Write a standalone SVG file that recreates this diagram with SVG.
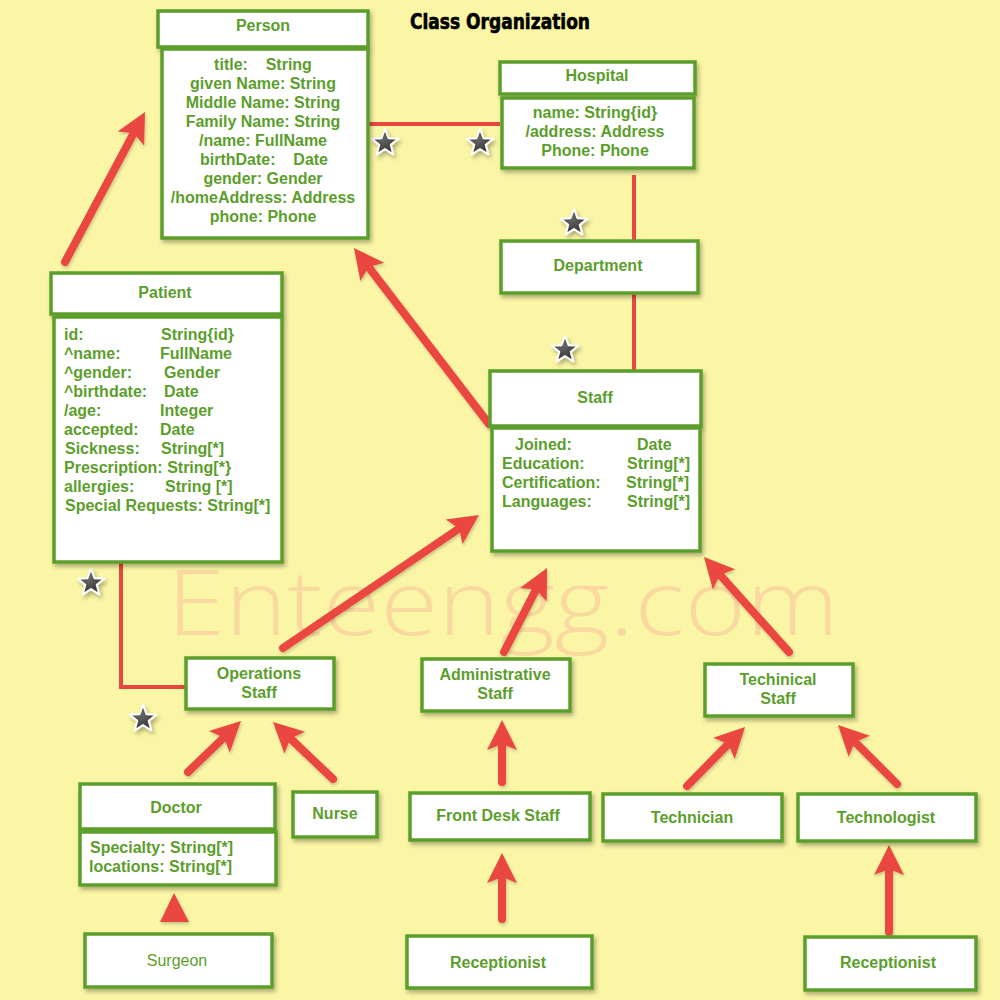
<svg xmlns="http://www.w3.org/2000/svg" width="1000" height="1000" viewBox="0 0 1000 1000">
<style>
.box{fill:#fff;stroke:#5C9E2C;stroke-width:3.5;filter:url(#sh)}
.t{font-family:"Liberation Sans",Arial,sans-serif;font-weight:bold;font-size:16px;fill:#5C9E2C;white-space:pre}
.c{text-anchor:middle}
.n{font-weight:normal}
.conn{stroke:#E9473F;stroke-width:4;fill:none}
.arr{stroke:#E9473F;stroke-width:8;stroke-linecap:round;fill:none;marker-end:url(#ah);filter:url(#sh2)}
.star{fill:url(#sg);stroke:#fff;stroke-width:2;stroke-linejoin:round;filter:url(#sh)}
</style>
<defs>
<filter id="sh" x="-20%" y="-20%" width="150%" height="150%"><feDropShadow dx="2" dy="3" stdDeviation="2" flood-color="#000" flood-opacity="0.3"/></filter>
<filter id="sh2" filterUnits="userSpaceOnUse" x="0" y="0" width="1000" height="1000"><feDropShadow dx="1" dy="2" stdDeviation="1.5" flood-color="#000" flood-opacity="0.2"/></filter>
<radialGradient id="sg" cx="0.4" cy="0.35" r="0.7"><stop offset="0" stop-color="#6a6a6a"/><stop offset="1" stop-color="#2e2e2e"/></radialGradient>
<marker id="ah" markerUnits="userSpaceOnUse" markerWidth="34" markerHeight="34" viewBox="-8 -17 34 34" refX="0" refY="0" orient="auto"><path d="M-6,-15 L24,0 L-6,15 L0,0 Z" fill="#E9473F"/></marker>
<path id="st" d="M0,-14 L3.53,-4.85 L13.31,-4.33 L5.71,1.85 L8.23,11.33 L0,6 L-8.23,11.33 L-5.71,1.85 L-13.31,-4.33 L-3.53,-4.85 Z"/>
</defs>
<rect width="1000" height="1000" fill="#FAF6A6"/>
<text x="167" y="635" font-family="'Open Sans','DejaVu Sans',sans-serif" font-weight="300" font-size="90" fill="#F9D9A0" textLength="672" lengthAdjust="spacingAndGlyphs">Enteengg.com</text>
<text x="410" y="29" font-family="'DejaVu Sans Condensed','DejaVu Sans',sans-serif" font-weight="bold" font-size="21" fill="#000" stroke="#000" stroke-width="0.6" textLength="180" lengthAdjust="spacingAndGlyphs">Class Organization</text>

<g id="connectors">
<line class="conn" x1="368" y1="124" x2="500" y2="124"/>
<line class="conn" x1="634" y1="175" x2="634" y2="242"/>
<line class="conn" x1="634" y1="294" x2="634" y2="371"/>
<polyline class="conn" points="121,563 121,687 186,687"/>
<line class="arr" x1="65" y1="262" x2="133.7" y2="133.2"/>
<line class="arr" x1="489" y1="424" x2="368.6" y2="267"/>
<line class="arr" x1="283" y1="648" x2="459.1" y2="528.5"/>
<line class="arr" x1="504" y1="652" x2="536.1" y2="589.4"/>
<line class="arr" x1="789" y1="652" x2="720" y2="574.9"/>
<line class="arr" x1="188" y1="772" x2="223.7" y2="737.6"/>
<line class="arr" x1="333" y1="779" x2="290.4" y2="738.5"/>
<line class="arr" x1="502" y1="782" x2="502" y2="744"/>
<line class="arr" x1="502" y1="919" x2="502" y2="877"/>
<line class="arr" x1="687" y1="786" x2="728.2" y2="744.1"/>
<line class="arr" x1="897" y1="784" x2="855" y2="742"/>
<line class="arr" x1="889" y1="932" x2="889" y2="869"/>
<polygon points="160,922 174,893 189,922" fill="#E9473F" filter="url(#sh2)"/>
<use href="#st" class="star" x="385" y="143"/>
<use href="#st" class="star" x="480" y="143"/>
<use href="#st" class="star" x="574" y="223"/>
<use href="#st" class="star" x="565" y="350"/>
<use href="#st" class="star" x="91" y="583"/>
<use href="#st" class="star" x="143" y="719"/>
</g>

<g id="person">
<rect class="box" x="158" y="11" width="210" height="36"/>
<rect class="box" x="162" y="49" width="206" height="189"/>
<text class="t c" x="263" y="31">Person</text>
<text class="t c" x="263" y="70">title:    String</text>
<text class="t c" x="263" y="89">given Name: String</text>
<text class="t c" x="263" y="108">Middle Name: String</text>
<text class="t c" x="263" y="127">Family Name: String</text>
<text class="t c" x="263" y="146">/name: FullName</text>
<text class="t c" x="264" y="165">birthDate:    Date</text>
<text class="t c" x="263" y="184">gender: Gender</text>
<text class="t c" x="263" y="203">/homeAddress: Address</text>
<text class="t c" x="263" y="222">phone: Phone</text>
</g>

<g id="hospital">
<rect class="box" x="500" y="62" width="195" height="32"/>
<rect class="box" x="502" y="98" width="192" height="70"/>
<text class="t c" x="597" y="81">Hospital</text>
<text class="t c" x="595" y="118">name: String{id}</text>
<text class="t c" x="595" y="137">/address: Address</text>
<text class="t c" x="595" y="156">Phone: Phone</text>
</g>

<g id="department">
<rect class="box" x="501" y="241" width="197" height="52"/>
<text class="t c" x="598" y="271">Department</text>
</g>

<g id="staff">
<rect class="box" x="490" y="371" width="211" height="55"/>
<rect class="box" x="492" y="428" width="208" height="123"/>
<text class="t c" x="595" y="403">Staff</text>
<text class="t" x="515" y="450">Joined:</text><text class="t" x="637" y="450">Date</text>
<text class="t" x="502" y="469">Education:</text><text class="t" x="627" y="469">String[*]</text>
<text class="t" x="502" y="488">Certification:</text><text class="t" x="626" y="488">String[*]</text>
<text class="t" x="502" y="507">Languages:</text><text class="t" x="627" y="507">String[*]</text>
</g>

<g id="patient">
<rect class="box" x="51" y="273" width="231" height="41"/>
<rect class="box" x="54" y="317" width="228" height="245"/>
<text class="t c" x="165" y="298">Patient</text>
<text class="t" x="64" y="340">id:</text><text class="t" x="161" y="340">String{id}</text>
<text class="t" x="64" y="359">^name:</text><text class="t" x="160" y="359">FullName</text>
<text class="t" x="64" y="378">^gender:</text><text class="t" x="164" y="378">Gender</text>
<text class="t" x="64" y="397">^birthdate:</text><text class="t" x="164" y="397">Date</text>
<text class="t" x="64" y="416">/age:</text><text class="t" x="160" y="416">Integer</text>
<text class="t" x="64" y="435">accepted:</text><text class="t" x="160" y="435">Date</text>
<text class="t" x="65" y="454">Sickness:</text><text class="t" x="161" y="454">String[*]</text>
<text class="t" x="64" y="473">Prescription: String[*}</text>
<text class="t" x="64" y="492">allergies:</text><text class="t" x="165" y="492">String [*]</text>
<text class="t" x="65" y="511">Special Requests: String[*]</text>
</g>

<g id="operations-staff">
<rect class="box" x="186" y="658" width="148" height="51"/>
<text class="t c" x="259" y="679">Operations</text>
<text class="t c" x="259" y="698">Staff</text>
</g>

<g id="administrative-staff">
<rect class="box" x="422" y="659" width="148" height="52"/>
<text class="t c" x="495" y="680">Administrative</text>
<text class="t c" x="495" y="699">Staff</text>
</g>

<g id="techinical-staff">
<rect class="box" x="705" y="664" width="148" height="52"/>
<text class="t c" x="778" y="685">Techinical</text>
<text class="t c" x="778" y="704">Staff</text>
</g>

<g id="doctor">
<rect class="box" x="80" y="784" width="195" height="45"/>
<rect class="box" x="80" y="832" width="196" height="53"/>
<text class="t c" x="176" y="813">Doctor</text>
<text class="t" x="90" y="853">Specialty: String[*]</text>
<text class="t" x="89" y="872">locations: String[*]</text>
</g>

<g id="nurse">
<rect class="box" x="293" y="792" width="84" height="45"/>
<text class="t c" x="335" y="819">Nurse</text>
</g>

<g id="front-desk-staff">
<rect class="box" x="410" y="793" width="180" height="47"/>
<text class="t c" x="498" y="821">Front Desk Staff</text>
</g>

<g id="technician">
<rect class="box" x="603" y="794" width="179" height="47"/>
<text class="t c" x="692" y="823">Technician</text>
</g>

<g id="technologist">
<rect class="box" x="798" y="794" width="178" height="47"/>
<text class="t c" x="886" y="823">Technologist</text>
</g>

<g id="surgeon">
<rect class="box" x="85" y="934" width="187" height="53"/>
<text class="t c n" x="177" y="966">Surgeon</text>
</g>

<g id="receptionist-1">
<rect class="box" x="407" y="936" width="185" height="52"/>
<text class="t c" x="498" y="968">Receptionist</text>
</g>

<g id="receptionist-2">
<rect class="box" x="805" y="937" width="171" height="53"/>
<text class="t c" x="888" y="968">Receptionist</text>
</g>
</svg>
